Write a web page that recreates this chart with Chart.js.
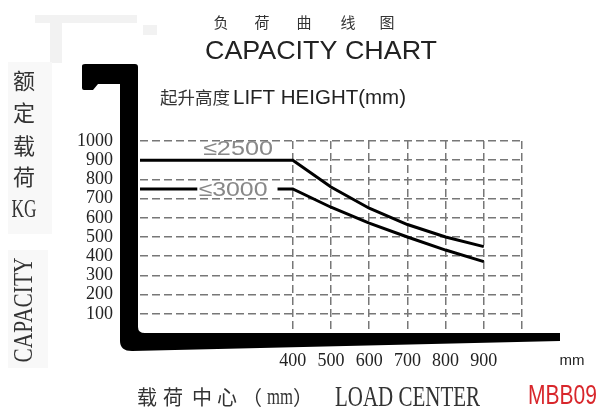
<!DOCTYPE html>
<html>
<head>
<meta charset="utf-8">
<script src="https://cdn.jsdelivr.net/npm/chart.js@4"></script>
<style>
  html, body { margin: 0; padding: 0; background: #fff; }
  #wrap { position: relative; width: 599px; height: 409px; }
</style>
</head>
<body>
<div id="wrap"><canvas id="chart"></canvas></div>
<script>
// load center (mm) vs rated capacity (kg)
const loadCenters = [0, 400, 500, 600, 700, 800, 900]
const cap2500 = [900, 900, 760, 650, 565, 500, 450]

// lower curve has a gap where its label sits
const loadCenters3000 = [0, 150, 255, 360, 400, 500, 600, 700, 800, 900]
const cap3000 = [750, 750, null, 750, 750, 655, 572, 500, 432, 372]

const xTickLabels = [400, 500, 600, 700, 800, 900]
const yTickLabels = [100, 200, 300, 400, 500, 600, 700, 800, 900, 1000]

const SERIF = "'Liberation Serif', 'DejaVu Serif', serif"
const SANS = "'Liberation Sans', Arial, sans-serif"
const CJK = "'Noto Sans CJK SC', sans-serif"

function pts(xs, ys) {
  return xs.map((x, i) => ({ x: x, y: ys[i] }))
}

// draw text, optionally squeezed to a target width
function txt(ctx, s, x, y, font, color, align, width, rot) {
  ctx.save()
  ctx.font = font
  ctx.fillStyle = color
  ctx.textBaseline = 'middle'
  ctx.textAlign = align || 'center'
  ctx.translate(x, y)
  if (rot) ctx.rotate(rot)
  if (width) {
    const w = ctx.measureText(s).width
    ctx.scale(width / w, 1)
  }
  ctx.fillText(s, 0, 0)
  ctx.restore()
}

const decorations = {
  id: 'decorations',
  beforeDraw(chart) {
    const ctx = chart.ctx
    ctx.save()
    ctx.fillStyle = '#fff'
    ctx.fillRect(0, 0, chart.width, chart.height)
    // faint scan artefacts
    ctx.fillStyle = '#f2f2f2'
    ctx.fillRect(35, 15, 102, 8)
    ctx.fillRect(50, 23, 12, 40)
    ctx.fillRect(143, 25, 14, 10)
    ctx.fillStyle = '#f8f8f8'
    ctx.fillRect(8, 62, 44, 172)
    ctx.fillRect(8, 250, 40, 118)
    ctx.restore()
  },
  afterDraw(chart) {
    const ctx = chart.ctx
    const a = chart.chartArea
    const L = a.left - 2
    const B = a.bottom

    // forklift mast + fork
    ctx.save()
    ctx.fillStyle = '#000'
    ctx.beginPath()
    ctx.moveTo(82, 66)
    ctx.quadraticCurveTo(82, 64, 85, 64)
    ctx.lineTo(L - 3, 64)
    ctx.quadraticCurveTo(L, 64, L, 67)
    ctx.lineTo(L, B - 6)
    ctx.quadraticCurveTo(L, B, L + 7, B)
    ctx.lineTo(560, B)
    ctx.lineTo(560, B + 8)
    ctx.lineTo(132, B + 18)
    ctx.quadraticCurveTo(120, B + 18, 120, B + 8)
    ctx.lineTo(120, 84)
    ctx.lineTo(98, 84)
    ctx.lineTo(93, 90)
    ctx.lineTo(84, 90)
    ctx.quadraticCurveTo(82, 90, 82, 88)
    ctx.closePath()
    ctx.fill()
    ctx.restore()

    // titles
    const t1 = ['负', '荷', '曲', '线', '图']
    const t1x = [221, 262, 304, 348, 387]
    t1.forEach((c, i) => txt(ctx, c, t1x[i], 22, '15px ' + CJK, '#333', 'center'))
    txt(ctx, 'CAPACITY CHART', 205, 52, '26px ' + SANS, '#222', 'left', 232)
    txt(ctx, '起升高度', 160, 98, '17px ' + CJK, '#333', 'left', 70)
    txt(ctx, 'LIFT HEIGHT(mm)', 233, 98, '20px ' + SANS, '#222', 'left', 173)

    // left axis title
    const yl = ['额', '定', '载', '荷']
    const ylY = [81, 113, 146, 177]
    yl.forEach((c, i) => txt(ctx, c, 24, ylY[i], '22px ' + CJK, '#333', 'center'))
    txt(ctx, 'KG', 24, 210, '26px ' + SERIF, '#333', 'center', 25)
    txt(ctx, 'CAPACITY', 25, 310, '27px ' + SERIF, '#333', 'center', 105, -Math.PI / 2)

    // series labels
    txt(ctx, '\u22642500', 238, 149, '20px ' + SANS, '#888', 'center', 70)
    txt(ctx, '\u22643000', 233, 190, '20px ' + SANS, '#888', 'center', 69)

    // bottom
    txt(ctx, 'mm', 572, 361, '15px ' + SANS, '#222', 'center')
    const bl = ['载', '荷', '中', '心', '（']
    const blX = [147, 173, 202, 227, 252]
    bl.forEach((c, i) => txt(ctx, c, blX[i], 397, '20px ' + CJK, '#333', 'center'))
    txt(ctx, 'mm', 280, 398, '24px ' + SERIF, '#333', 'center', 26)
    txt(ctx, '）', 303, 397, '20px ' + CJK, '#333', 'center')
    txt(ctx, 'LOAD CENTER', 335, 398, '30px ' + SERIF, '#333', 'left', 145)
    txt(ctx, 'MBB09', 528, 397, '27px ' + SANS, '#d8262b', 'left', 69)
  },
}

new Chart(document.getElementById('chart'), {
  type: 'line',
  data: {
    datasets: [
      {
        label: '≤2500',
        data: pts(loadCenters, cap2500),
        borderColor: '#000',
        borderWidth: 3,
        pointRadius: 0,
        tension: 0,
        fill: false,
      },
      {
        label: '≤3000',
        data: pts(loadCenters3000, cap3000),
        borderColor: '#000',
        borderWidth: 3,
        pointRadius: 0,
        tension: 0,
        spanGaps: false,
        fill: false,
      },
    ],
  },
  options: {
    responsive: true,
    maintainAspectRatio: false,
    animation: false,
    layout: { padding: { left: 77, right: 77, top: 141, bottom: 37 } },
    plugins: {
      legend: { display: false },
      tooltip: { enabled: false },
    },
    scales: {
      x: {
        type: 'linear',
        min: 0,
        max: 1000,
        afterFit: (s) => { s.height = 39 },
        grid: {
          drawTicks: false,
          lineWidth: 1.5,
          color: (c) => (c.tick && c.tick.value >= 400 ? '#777' : 'rgba(0,0,0,0)'),
        },
        border: { display: false, dash: [8, 4] },
        ticks: {
          stepSize: 100,
          padding: 17,
          color: '#222',
          font: { family: SERIF, size: 18 },
          maxRotation: 0,
          autoSkip: false,
          callback: (v) => (xTickLabels.includes(v) ? String(v) : ''),
        },
      },
      y: {
        min: 0,
        max: 1000,
        afterFit: (s) => { s.width = 63 },
        grid: {
          drawTicks: false,
          lineWidth: 1.5,
          color: (c) => (c.tick && c.tick.value > 0 ? '#777' : 'rgba(0,0,0,0)'),
        },
        border: { display: false, dash: [8, 4] },
        ticks: {
          stepSize: 100,
          padding: 27,
          color: '#222',
          font: { family: SERIF, size: 18 },
          autoSkip: false,
          callback: (v) => (yTickLabels.includes(v) ? String(v) : ''),
        },
      },
    },
  },
  plugins: [decorations],
})
</script>
</body>
</html>
